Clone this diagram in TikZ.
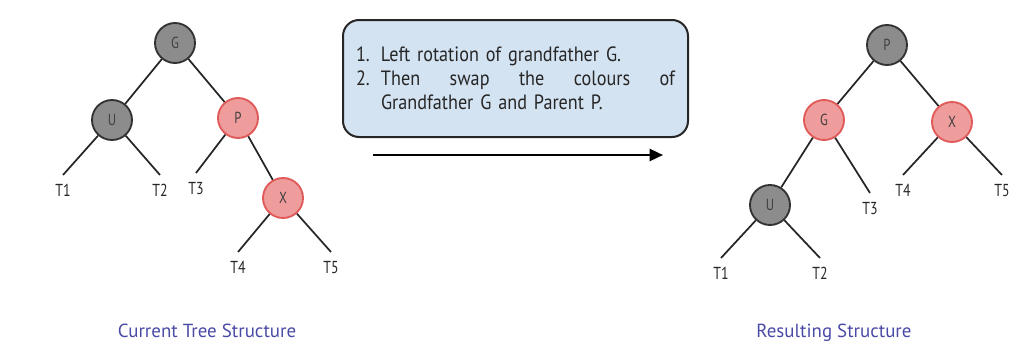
\documentclass[tikz,border=0pt]{standalone}
\usepackage{fontspec}
\usepackage{tikz}
\usepackage{xcolor}
\usetikzlibrary{arrows.meta}
\setmainfont{PT Sans}
\newfontfamily\boxfont{PT Sans}[FakeStretch=0.88]
\newfontfamily\leaffont{PT Sans}[FakeStretch=0.8]
\definecolor{blacknode}{HTML}{8C8C8C}
\definecolor{rednode}{HTML}{EE9C9C}
\definecolor{redline}{HTML}{E05A5A}
\definecolor{boxblue}{HTML}{D3E3F2}
\definecolor{captionblue}{HTML}{4A4AA6}

\begin{document}
\begin{tikzpicture}[x=0.75pt, y=-0.75pt,
    black/.style={circle, draw=black!80, line width=1.4pt, fill=blacknode, minimum size=30pt, inner sep=0pt, font=\leaffont\fontsize{12}{14}\selectfont, text=black!75},
    red/.style={circle, draw=redline, line width=1.4pt, fill=rednode, minimum size=30pt, inner sep=0pt, font=\leaffont\fontsize{12}{14}\selectfont, text=black!75},
    leaf/.style={anchor=north, inner xsep=1pt, inner ysep=7pt, font=\leaffont\fontsize{13}{15}\selectfont, text=black!85},
    edge/.style={draw=black!85, line width=1.3pt},
    caption/.style={font=\fontsize{14.2}{16}\selectfont, text=captionblue}]
\useasboundingbox (0,0) rectangle (1036,364);

\node[black] (g) at (175,43) {G};
\node[black] (u) at (112,120) {U};
\node[red] (p) at (238,118) {P};
\node[red] (x) at (283,198) {X};
\node[leaf] (t1) at (63,175) {T1};
\node[leaf] (t2) at (160,175) {T2};
\node[leaf] (t3) at (196,173) {T3};
\node[leaf] (t4) at (238,252) {T4};
\node[leaf] (t5) at (331,252) {T5};
\draw[edge] (g) -- (u);
\draw[edge] (g) -- (p);
\draw[edge] (u) -- (t1.north);
\draw[edge] (u) -- (t2.north);
\draw[edge] (p) -- (t3.north);
\draw[edge] (p) -- (x);
\draw[edge] (x) -- (t4.north);
\draw[edge] (x) -- (t5.north);
\node[caption] (cur) at (207,331) {Current Tree Structure};

\node[draw=black!85, line width=1.5pt, fill=boxblue, rounded corners=12pt,
      text width=239.25pt, inner xsep=9.75pt, minimum height=87.75pt,
      align=left, font=\boxfont\fontsize{15.5}{18}\selectfont, text=black!85]
      (steps) at (515.5,78.5)
      {\makebox[18.75pt][l]{1.}Left rotation of grandfather G.\\
       \makebox[18.75pt][l]{2.}\makebox[220.5pt][l]{Then\hfill swap\hfill the\hfill colours\hfill of}\\
       \hspace*{18.75pt}Grandfather G and Parent P.};
\coordinate (a1) at (373,155);
\coordinate (a2) at (663,155);
\draw[line width=1.8pt, -{Triangle[length=10pt, width=9pt]}] (a1) -- (a2);

\node[black] (pp) at (887,45) {P};
\node[red] (gg) at (824,120) {G};
\node[red] (xx) at (952,122) {X};
\node[black] (uu) at (770,205) {U};
\node[leaf] (s1) at (721,258) {T1};
\node[leaf] (s2) at (820,258) {T2};
\node[leaf] (s3) at (870,193) {T3};
\node[leaf] (s4) at (903,175) {T4};
\node[leaf] (s5) at (1002,175) {T5};
\draw[edge] (pp) -- (gg);
\draw[edge] (pp) -- (xx);
\draw[edge] (gg) -- (uu);
\draw[edge] (gg) -- (s3.north);
\draw[edge] (uu) -- (s1.north);
\draw[edge] (uu) -- (s2.north);
\draw[edge] (xx) -- (s4.north);
\draw[edge] (xx) -- (s5.north);
\node[caption] (res) at (834,333) {Resulting Structure};
\end{tikzpicture}
\end{document}
